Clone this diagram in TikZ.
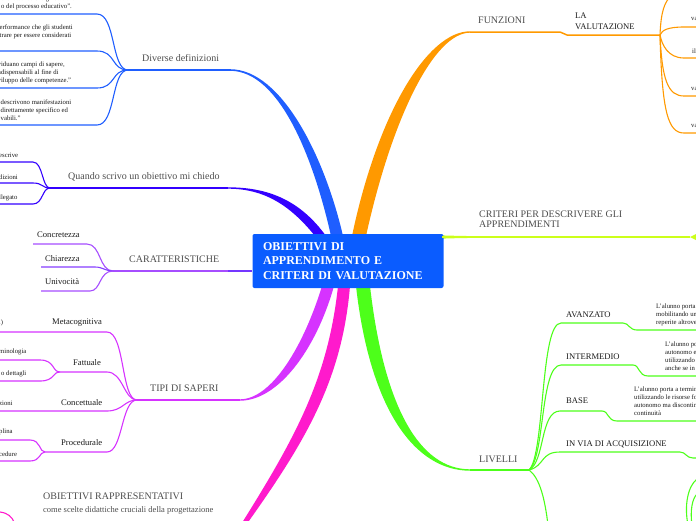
\documentclass[tikz,border=0pt]{standalone}
\usepackage{fontspec}
\setmainfont{Liberation Serif}
\usepackage{tikz}
\usetikzlibrary{positioning}
\definecolor{MapBlue}{HTML}{0A5CFF}
\definecolor{DefBlue}{HTML}{1F5EFF}
\definecolor{AskBlue}{HTML}{3300FF}
\definecolor{CarPurple}{HTML}{A64DFF}
\definecolor{TipMagenta}{HTML}{D633FF}
\definecolor{RapPink}{HTML}{FF1ACC}
\definecolor{LivGreen}{HTML}{4DFF1A}
\definecolor{CritLime}{HTML}{CCFF1A}
\definecolor{FunOrange}{HTML}{FF9900}
\definecolor{LabelGray}{HTML}{4D4D4D}
\definecolor{LeafInk}{HTML}{1A1A1A}

\begin{document}
\begin{tikzpicture}[x=1pt,y=-1pt,
  hub/.style={fill=MapBlue,rounded corners=2pt,text=white,align=left,
    font=\bfseries\fontsize{12}{14.2}\selectfont,text width=170pt,inner xsep=10.5pt,minimum height=54pt},
  topic/.style={inner sep=0pt,anchor=west,text=LabelGray,align=left,font=\fontsize{10}{10.5}\selectfont},
  sub/.style={inner sep=0pt,anchor=west,text=LeafInk,align=left,font=\fontsize{8.6}{11}\selectfont},
  leaf/.style={inner sep=0pt,anchor=west,text=LeafInk,align=left,font=\fontsize{6.7}{8.1}\selectfont},
  twig/.style={line width=1.1pt},
  bough/.style={line width=1.5pt}]
  \useasboundingbox (0,0) rectangle (696,520);
  \clip (0,0) rectangle (696,520);

  % fan points and branch ends
  \coordinate (dd-fan) at (128,70);   \coordinate (dd-end) at (230,70);
  \coordinate (ask-fan) at (50,188);  \coordinate (ask-end) at (228,188);
  \coordinate (car-fan) at (113,271); \coordinate (car-end) at (252,271);
  \coordinate (tip-fan) at (137,400); \coordinate (tip-end) at (240,400);
  \coordinate (rap-end) at (240,530);
  \coordinate (fun-start) at (470,32); \coordinate (fun-step) at (560,32);
  \coordinate (val-start) at (567,35); \coordinate (val-fan) at (660,35);
  \coordinate (crit-start) at (442,237); \coordinate (crit-end) at (690,237);
  \coordinate (liv-start) at (470,470); \coordinate (liv-fan) at (529,470);

  % central topic sits at hubpos; top edge y=234, bottom edge y=288
  \coordinate (hubpos) at (348,261);
  \coordinate (hub-top) at (348,236);
  \coordinate (hub-bot) at (348,286);

  % thick boughs
  \fill[DefBlue] ([yshift=0.8pt]dd-end) .. controls (282,69.2) and (325,158) .. ([xshift=-5pt]hub-top)
    -- ([xshift=-17pt]hub-top) .. controls (314,160) and (280,70.8) .. ([yshift=-0.8pt]dd-end) -- cycle;
  \fill[AskBlue] ([yshift=0.7pt]ask-end) .. controls (268,187.3) and (300,200) .. ([xshift=-22pt]hub-top)
    -- ([xshift=-33pt]hub-top) .. controls (290,205) and (264,188.7) .. ([yshift=-0.7pt]ask-end) -- cycle;
  \fill[FunOrange] ([yshift=0.7pt]fun-start) .. controls (428,31.3) and (378,112) .. ([xshift=4pt]hub-top)
    -- ([xshift=18pt]hub-top) .. controls (392,118) and (434,32.7) .. ([yshift=-0.7pt]fun-start) -- cycle;
  \fill[TipMagenta] ([yshift=0.7pt]tip-end) .. controls (272,399.3) and (304,345) .. ([xshift=-26pt]hub-bot)
    -- ([xshift=-14pt]hub-bot) .. controls (316,350) and (278,400.7) .. ([yshift=-0.7pt]tip-end) -- cycle;
  \fill[RapPink] ([xshift=-10pt]hub-bot) .. controls (328,380) and (294,440) .. ([xshift=-2.5pt]rap-end)
    -- ([xshift=2.5pt]rap-end) .. controls (304,444) and (342,382) .. ([xshift=2pt]hub-bot) -- cycle;
  \fill[LivGreen] ([xshift=8pt]hub-bot) .. controls (370,410) and (415,470.7) .. ([yshift=-0.7pt]liv-start)
    -- ([yshift=0.7pt]liv-start) .. controls (420,469.3) and (384,408) .. ([xshift=22pt]hub-bot) -- cycle;
  \fill[CritLime] ([yshift=1.6pt]crit-start) .. controls (462,236) .. (500,236.3) -- (500,237.7)
    .. controls (462,238) .. ([yshift=-1.6pt]crit-start) -- cycle;

  \node[hub] (obj) at (hubpos) {OBIETTIVI DI\\APPRENDIMENTO E\\CRITERI DI VALUTAZIONE};

  % Diverse definizioni
  \node[topic] (dd) at (142,58) {Diverse definizioni};
  \draw[DefBlue,bough] (dd-fan) -- (dd-end);
  \foreach \i/\y in {1/14,2/51,3/88,4/125}{
    \coordinate (dd-leaf\i) at (0,\y);
    \draw[DefBlue,twig] (dd-leaf\i) -- (97,\y) .. controls (116,\y) and (111,70) .. (dd-fan);
  }
  \node[leaf] (dd-t1) at (1,3) {ci si attende che gli studenti\\o del processo educativo”.};
  \node[leaf] (dd-t2) at (-0.5,32) {erformance che gli studenti\\trare per essere considerati};
  \node[leaf] (dd-t3) at (-2.5,72.5) {viduano campi di sapere,\\ndispensabili al fine di\\viluppo delle competenze.”};
  \node[leaf] (dd-t4) at (0.5,110) {descrivono manifestazioni\\direttamente specifico ed\\vabili.”};

  % Quando scrivo un obiettivo mi chiedo
  \node[topic] (ask) at (68,177) {Quando scrivo un obiettivo mi chiedo};
  \draw[AskBlue,bough] (ask-fan) -- (ask-end);
  \foreach \i/\y in {1/162,2/183,3/204}{
    \coordinate (ask-leaf\i) at (0,\y);
    \draw[AskBlue,twig] (ask-leaf\i) -- (33,\y) .. controls (43,\y) and (42,188) .. (ask-fan);
  }
  \node[leaf] (ask-t1) at (-1,155) {escrive};
  \node[leaf] (ask-t2) at (-1,177) {dizioni};
  \node[leaf] (ask-t3) at (-1,198) {llegato};

  % CARATTERISTICHE
  \node[topic] (car) at (129,259) {CARATTERISTICHE};
  \draw[CarPurple,bough] (car-fan) -- (car-end);
  \draw[CarPurple!70!blue,line width=2pt] (228,271) -- (car-end);
  \node[sub] (conc) at (37,235) {Concretezza};
  \node[sub] (chia) at (45,259) {Chiarezza};
  \node[sub] (univ) at (45,282) {Univocità};
  \draw[CarPurple,twig] (33,244) -- (87,244) .. controls (101,244) and (99,271) .. (car-fan);
  \draw[CarPurple!80!blue,twig] (41,267) -- (95,267) .. controls (103,267) and (105,271) .. (car-fan);
  \draw[CarPurple,twig] (41,291) -- (90,291) .. controls (101,291) and (99,271) .. (car-fan);

  % TIPI DI SAPERI
  \node[topic] (tip) at (150,388) {TIPI DI SAPERI};
  \draw[TipMagenta,bough] (tip-fan) -- (tip-end);
  \node[sub] (meta) at (52,323) {Metacognitiva};
  \node[sub] (fatt) at (73,363) {Fattuale};
  \node[sub] (conce) at (61,403) {Concettuale};
  \node[sub] (proc) at (61,443) {Procedurale};
  \coordinate (fatt-fan) at (60,372);
  \coordinate (proc-fan) at (45,452);
  \draw[TipMagenta,twig] (0,332) -- (107,332) .. controls (125,332) and (121,400) .. (tip-fan);
  \draw[TipMagenta,twig] (fatt-fan) -- (107,372) .. controls (123,372) and (124,400) .. (tip-fan);
  \draw[TipMagenta,twig] (0,411) -- (107,411) .. controls (123,411) and (124,400) .. (tip-fan);
  \draw[TipMagenta,twig] (proc-fan) -- (107,452) .. controls (123,452) and (121,400) .. (tip-fan);
  \draw[TipMagenta,twig] (0,360) -- (40,360) .. controls (55,360) and (52,372) .. (fatt-fan);
  \draw[TipMagenta,twig] (0,381) -- (40,381) .. controls (55,381) and (52,372) .. (fatt-fan);
  \draw[TipMagenta,twig] (0,440) -- (30,440) .. controls (41,440) and (39,452) .. (proc-fan);
  \draw[TipMagenta,twig] (0,461) -- (30,461) .. controls (41,461) and (39,452) .. (proc-fan);
  \node[leaf] (meta-t) at (-1,323) {.)};
  \node[leaf] (fatt-t1) at (-1,352) {minologia};
  \node[leaf] (fatt-t2) at (1,374) {o dettagli};
  \node[leaf] (conce-t) at (-1,403) {zioni};
  \node[leaf] (proc-t1) at (-1,432) {plina};
  \node[leaf] (proc-t2) at (-1,454) {cedure};

  % OBIETTIVI RAPPRESENTATIVI
  \node[topic] (rap) at (43,496) {OBIETTIVI RAPPRESENTATIVI};
  \node[topic,font=\fontsize{8.5}{10}\selectfont] (rap-t) at (43,510) {come scelte didattiche cruciali della progettazione};
  \draw[RapPink,twig] (0,512) .. controls (8,513) and (12,517) .. (14,522);

  % FUNZIONI / LA VALUTAZIONE
  \node[topic] (fun) at (478,20.5) {FUNZIONI};
  \node[sub] (val) at (575,21.5) {LA\\VALUTAZIONE};
  \draw[FunOrange,bough] (fun-start) -- (fun-step) .. controls (563,32) and (564,35) .. (val-start) -- (val-fan);
  \draw[FunOrange,twig] (val-fan) .. controls (661,12) and (664,2) .. (672,-5);
  \foreach \i/\y/\c in {1/27/30,2/58/45,3/96/80,4/133/112}{
    \coordinate (val-leaf\i) at (697,\y);
    \draw[FunOrange,twig] (val-fan) .. controls (662,\c) and (668,\y) .. (684,\y) -- (val-leaf\i);
  }
  \node[leaf] (val-t1) at (691,19) {va};
  \node[leaf] (val-t2) at (692,51) {il};
  \node[leaf] (val-t3) at (691,89) {va};
  \node[leaf] (val-t4) at (691,126) {va};

  % CRITERI PER DESCRIVERE GLI APPRENDIMENTI
  \node[topic] (crit) at (479,219) {CRITERI PER DESCRIVERE GLI\\APPRENDIMENTI};
  \draw[CritLime,bough] (crit-start) -- (crit-end);
  \fill[CritLime] (crit-end) -- (697,233.5) -- (697,240.5) -- cycle;

  % LIVELLI
  \node[topic] (liv) at (479,459) {LIVELLI};
  \draw[LivGreen,bough] (liv-start) -- (liv-fan);
  \node[sub] (avz) at (566,315) {AVANZATO};
  \node[sub] (int) at (566,357) {INTERMEDIO};
  \node[sub] (bas) at (566,401) {BASE};
  \node[sub] (acq) at (566,444) {IN VIA DI ACQUISIZIONE};
  \draw[LivGreen,twig] (liv-fan) .. controls (545,455) and (540,323) .. (561,323) -- (623,323)
    .. controls (629,323) and (629,330) .. (637,330) -- (697,330);
  \draw[LivGreen,twig] (liv-fan) .. controls (545,458) and (540,365) .. (561,365) -- (633,365)
    .. controls (640,365) and (638,376) .. (648,376) -- (697,376);
  \draw[LivGreen,twig] (liv-fan) .. controls (545,462) and (540,411) .. (560,411) -- (602,411)
    .. controls (609,411) and (607,421) .. (617,421) -- (697,421);
  \draw[LivGreen,twig] (liv-fan) .. controls (545,466) and (540,452) .. (560,452) -- (680,452)
    .. controls (686,452) and (686,458) .. (693,458) -- (697,458);
  \draw[LivGreen,twig] (liv-fan) .. controls (540,478) and (545,500) .. (548,525);
  \draw[LivGreen,twig] (688,525) .. controls (684,505) and (688,486) .. (697,479);
  \draw[LivGreen,twig] (692,525) .. controls (690,511) and (692,499) .. (697,494);
  \node[leaf] (avz-t) at (656,314.5) {L’alunno porta a\\mobilitando una\\reperite altrove};
  \node[leaf] (int-t) at (665,356.5) {L’alunno porta\\autonomo e\\utilizzando le\\anche se in};
  \node[leaf] (bas-t) at (634,401.5) {L’alunno porta a termine\\utilizzando le risorse fornite\\autonomo ma discontinuo\\continuità};
\end{tikzpicture}
\end{document}
